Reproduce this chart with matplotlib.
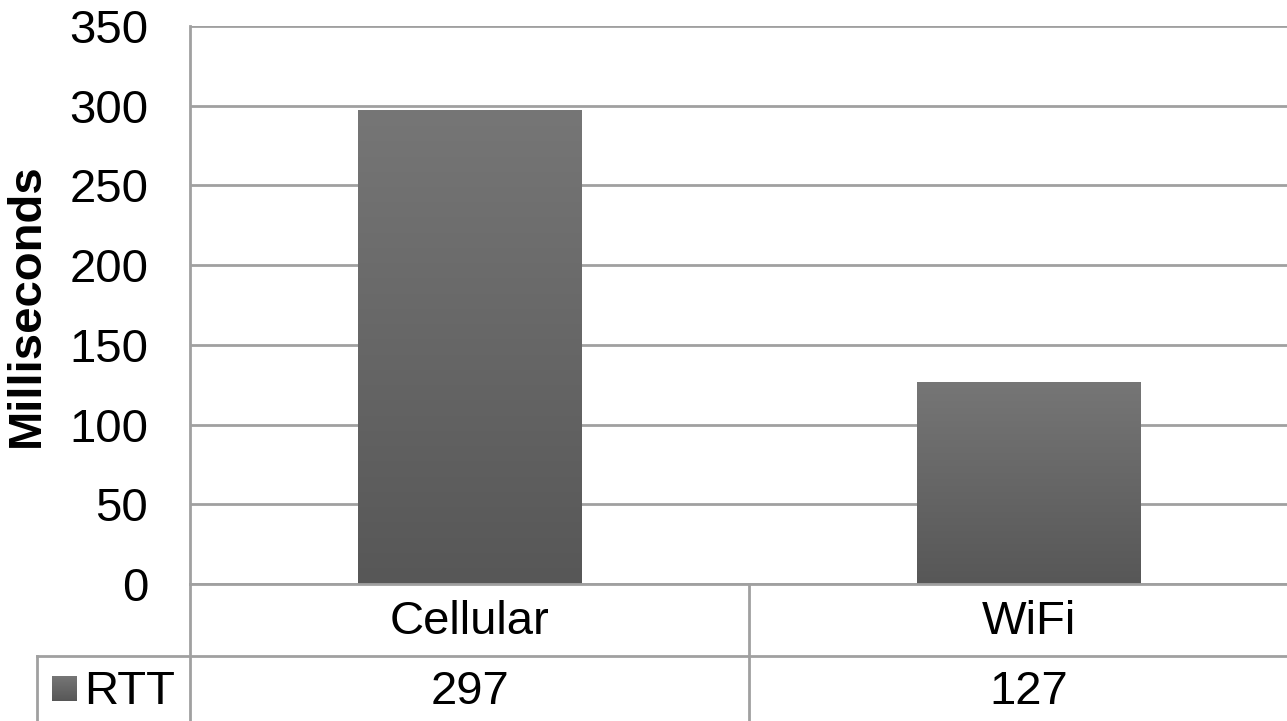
import numpy as np
import matplotlib.pyplot as plt
from matplotlib.lines import Line2D

plt.rcParams['font.family'] = ['Liberation Sans', 'DejaVu Sans']

categories = ['Cellular', 'WiFi']
rtt_ms = [297, 127]
series_name = 'RTT'
y_ticks = [0, 50, 100, 150, 200, 250, 300, 350]

W, H = 1287, 721
fs = 34
fig = plt.figure(figsize=(W / 100, H / 100), dpi=100)

# plot area (pixel geometry)
left, right, top, zero = 190, 1308, 26, 584
ax = fig.add_axes([left / W, (H - zero) / H, (right - left) / W, (zero - top) / H])

grid_c = '#a0a0a0'
x = np.arange(len(categories)) + 0.5
bars = ax.bar(x, rtt_ms, width=0.4, color='#666666', zorder=3)

# vertical gradient inside each bar
grad = np.linspace(0, 1, 256).reshape(-1, 1)
cmap = plt.matplotlib.colors.LinearSegmentedColormap.from_list('g', ['#575757', '#767676'])
for b in bars:
    x0, y0, w, h = b.get_x(), b.get_y(), b.get_width(), b.get_height()
    im = ax.imshow(grad, cmap=cmap, origin='lower', extent=[x0, x0 + w, y0, y0 + h],
                   aspect='auto', zorder=4)
    im.set_clip_path(b)

ax.set_xlim(0, len(categories))
ax.set_ylim(0, 350)
ax.set_yticks(y_ticks)
ax.set_yticklabels([str(t) for t in y_ticks], fontsize=fs)
ax.tick_params(axis='y', length=0, pad=30)
ax.set_xticks([])
ax.yaxis.grid(True, color=grid_c, linewidth=2, zorder=0)
ax.set_axisbelow(True)
for s in ['top', 'right', 'bottom']:
    ax.spines[s].set_visible(False)
ax.spines['left'].set_color(grid_c)
ax.spines['left'].set_linewidth(2)
ax.set_ylabel('Milliseconds', fontsize=fs, fontweight='bold')
ax.yaxis.set_label_coords(-(left - 49) / (right - left), 0.5)

# data table below the plot
def fx(px):
    return px / W

def fy(py):
    return 1 - py / H

row1 = 656
tbl_left = 37
lw = 2
fig.add_artist(Line2D([fx(left), fx(left)], [fy(zero), fy(H)], color=grid_c, lw=lw))
fig.add_artist(Line2D([fx(left), fx(W)], [fy(zero), fy(zero)], color=grid_c, lw=lw))
fig.add_artist(Line2D([fx(tbl_left), fx(W)], [fy(row1), fy(row1)], color=grid_c, lw=lw))
fig.add_artist(Line2D([fx(tbl_left), fx(tbl_left)], [fy(row1), fy(H)], color=grid_c, lw=lw))
cat_w = (right - left) / len(categories)
for i in range(1, len(categories)):
    xd = left + cat_w * i
    fig.add_artist(Line2D([fx(xd), fx(xd)], [fy(zero), fy(H)], color=grid_c, lw=lw))

for i, (c, v) in enumerate(zip(categories, rtt_ms)):
    xc = left + cat_w * (i + 0.5)
    fig.text(fx(xc), fy((zero + row1) / 2 + 2), c, fontsize=fs, ha='center', va='center')
    fig.text(fx(xc), fy((row1 + H) / 2 + 3), str(v), fontsize=fs, ha='center', va='center')

# legend key in table
kax = fig.add_axes([fx(52), fy(701), 25 / W, 25 / H])
kax.imshow(grad, cmap=cmap, origin='lower', extent=[0, 1, 0, 1], aspect='auto')
kax.axis('off')
fig.text(fx(84), fy((row1 + H) / 2 + 3), series_name, fontsize=fs, ha='left', va='center')

fig.savefig('out.png', dpi=100)
